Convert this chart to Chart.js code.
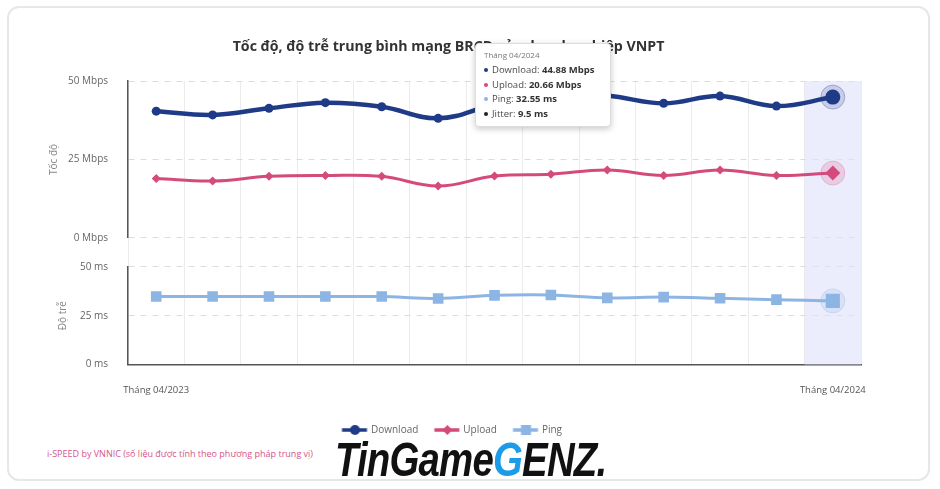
<!DOCTYPE html>
<html>
<head>
<meta charset="utf-8">
<script src="https://cdn.jsdelivr.net/npm/chart.js@4.4.0/dist/chart.umd.min.js"></script>
<style>
  body { margin: 0; width: 940px; height: 489px; overflow: hidden; background: #fff; position: relative; font-family: "Open Sans", sans-serif; }
  .card { position: absolute; left: 7px; top: 6px; width: 923px; height: 475px; border: 2px solid #e7e7e7; border-radius: 12px; box-sizing: border-box; }
  #wrap { position: absolute; left: 10px; top: 20px; width: 900px; height: 425px; }
  .nguon { position: absolute; left: 47px; top: 447px; font-size: 9px; color: #d4558a; }
  .logo { position: absolute; left: 335px; top: 432px; font-family: "Liberation Sans", sans-serif; font-weight: bold; font-style: italic; font-size: 48px; color: #111; letter-spacing: -1px; transform: scaleX(0.8); transform-origin: left top; }
  .logo span { color: #1b9be8; }
  #tip { position: absolute; left: 475px; top: 43px; width: 136px; height: 84px; background: #fff; border: 1px solid #ddd; border-radius: 4px; box-shadow: 0 2px 6px rgba(0,0,0,0.22); box-sizing: border-box; padding: 5px 8px; font-size: 9.5px; color: #4a4a4a; display: none; }
  #tip .t { font-size: 8px; color: #777; margin-bottom: 3px; }
  #tip .r { height: 14.5px; line-height: 14.5px; white-space: nowrap; }
  #tip .d { display: inline-block; width: 4px; height: 4px; border-radius: 50%; margin-right: 4px; vertical-align: middle; }
  #tip b { color: #333; }
</style>
</head>
<body>
<div class="card"></div>
<div id="wrap"><canvas id="grafica"></canvas></div>
<div id="tip"></div>
<div class="nguon">i-SPEED by VNNIC (số liệu được tính theo phương pháp trung vị)</div>
<div class="logo">TinGame<span>G</span>ENZ.</div>
<script>
// Datos
const meses = ["Tháng 04/2023", "Tháng 05/2023", "Tháng 06/2023", "Tháng 07/2023", "Tháng 08/2023", "Tháng 09/2023",
  "Tháng 10/2023", "Tháng 11/2023", "Tháng 12/2023", "Tháng 01/2024", "Tháng 02/2024", "Tháng 03/2024", "Tháng 04/2024"];
const download = [40.4, 39.2, 41.3, 43.1, 41.8, 38.1, 42.5, 45.4, 45.3, 42.9, 45.2, 42.0, 44.88];
const upload = [18.9, 18.1, 19.6, 19.9, 19.6, 16.5, 19.7, 20.3, 21.6, 19.9, 21.6, 19.9, 20.66];
const ping = [34.8, 34.8, 34.8, 34.8, 34.8, 33.8, 35.4, 35.6, 34.1, 34.5, 33.9, 33.2, 32.55];
const jitter = [null, null, null, null, null, null, null, null, null, null, null, null, 9.5];
const ticksMbps = [0, 25, 50];
const ticksMs = [0, 25, 50];

const idxActivo = meses.length - 1;
const colores = { download: "#1f3a87", upload: "#d54a7c", ping: "#8db5e4", jitter: "#222" };

// icono de leyenda: línea + marcador (desplazado a la derecha dentro del lienzo)
function iconoLeyenda(color, forma) {
  const c = document.createElement("canvas");
  c.width = 40; c.height = 14;
  const ctx = c.getContext("2d");
  const m = 24.5;
  ctx.strokeStyle = color; ctx.fillStyle = color; ctx.lineWidth = 3.5;
  ctx.beginPath(); ctx.moveTo(m - 13, 7); ctx.lineTo(m + 12, 7); ctx.stroke();
  ctx.beginPath();
  if (forma === "circle") ctx.arc(m, 7, 5, 0, Math.PI * 2);
  else if (forma === "rectRot") { ctx.moveTo(m, 2); ctx.lineTo(m + 5, 7); ctx.lineTo(m, 12); ctx.lineTo(m - 5, 7); ctx.closePath(); }
  else ctx.rect(m - 5, 2, 10, 10);
  ctx.fill();
  return c;
}

const bandaActiva = {
  id: "bandaActiva",
  beforeDatasetsDraw(chart) {
    const { ctx, chartArea, scales } = chart;
    const x = scales.x.getPixelForValue(idxActivo);
    const w = scales.x.width / meses.length;
    ctx.save();
    ctx.fillStyle = "rgba(222,225,250,0.62)";
    ctx.fillRect(x - w / 2, chartArea.top, w, chartArea.height);
    // halos de los puntos activos
    chart.data.datasets.forEach((ds, i) => {
      const el = chart.getDatasetMeta(i).data[idxActivo];
      if (!el) return;
      ctx.beginPath();
      ctx.arc(el.x, el.y, 12, 0, Math.PI * 2);
      ctx.fillStyle = ds.haloColor;
      ctx.fill();
      ctx.lineWidth = 1;
      ctx.strokeStyle = ds.haloBorde;
      ctx.stroke();
    });
    ctx.restore();
  }
};

function tooltipExterno() {
  const tip = document.getElementById("tip");
  const i = idxActivo;
  tip.innerHTML =
    '<div class="t">' + meses[i] + '</div>' +
    '<div class="r"><span class="d" style="background:' + colores.download + '"></span>Download: <b>' + download[i] + ' Mbps</b></div>' +
    '<div class="r"><span class="d" style="background:' + colores.upload + '"></span>Upload: <b>' + upload[i] + ' Mbps</b></div>' +
    '<div class="r"><span class="d" style="background:' + colores.ping + '"></span>Ping: <b>' + ping[i] + ' ms</b></div>' +
    '<div class="r"><span class="d" style="background:' + colores.jitter + '"></span>Jitter: <b>' + jitter[i] + ' ms</b></div>';
  tip.style.display = "block";
}

const activo = (normal, grande) => (ctx) => ctx.dataIndex === idxActivo ? grande : normal;

const $grafica = document.querySelector("#grafica");
const grafica = new Chart($grafica, {
  type: "line",
  data: {
    labels: meses,
    datasets: [
      {
        label: "Download", data: download, yAxisID: "ySpeed",
        borderColor: colores.download, backgroundColor: colores.download,
        borderWidth: 4.5, tension: 0.4, pointStyle: "circle",
        pointRadius: activo(4.5, 7.5), pointBorderWidth: 0,
        haloColor: "rgba(31,58,135,0.18)", haloBorde: "rgba(31,58,135,0.3)"
      },
      {
        label: "Upload", data: upload, yAxisID: "ySpeed",
        borderColor: colores.upload, backgroundColor: colores.upload,
        borderWidth: 3, tension: 0.4, pointStyle: "rectRot",
        pointRadius: activo(4.5, 7.5), pointBorderWidth: 0,
        haloColor: "rgba(213,74,124,0.2)", haloBorde: "rgba(213,74,124,0.25)"
      },
      {
        label: "Ping", data: ping, yAxisID: "yPing",
        borderColor: colores.ping, backgroundColor: colores.ping,
        borderWidth: 3, tension: 0.3, pointStyle: "rect",
        pointRadius: activo(7.5, 10), pointBorderWidth: 0,
        haloColor: "rgba(141,181,228,0.2)", haloBorde: "rgba(141,181,228,0.3)"
      }
    ]
  },
  options: {
    responsive: true,
    maintainAspectRatio: false,
    animation: false,
    events: [],
    layout: { padding: { left: 26, right: 49, top: 0, bottom: 0 } },
    plugins: {
      title: {
        display: true,
        text: "Tốc độ, độ trễ trung bình mạng BRCĐ của doanh nghiệp VNPT",
        color: "#333",
        font: { family: "Open Sans", size: 14.2, weight: "bold" },
        padding: { top: 18, bottom: 26 }
      },
      legend: {
        position: "bottom",
        labels: {
          usePointStyle: true,
          pointStyleWidth: 31,
          color: "#666",
          font: { family: "Open Sans", size: 10 },
          padding: 9,
          generateLabels(chart) {
            const base = Chart.defaults.plugins.legend.labels.generateLabels(chart);
            return base.map((l, i) => {
              const ds = chart.data.datasets[i];
              l.pointStyle = iconoLeyenda(ds.borderColor, ds.pointStyle);
              return l;
            });
          }
        }
      },
      tooltip: { enabled: false, external: tooltipExterno }
    },
    scales: {
      x: {
        offset: true,
        grid: { color: "#ececec", offset: true, drawTicks: false },
        border: { color: "#555", width: 1.5 },
        ticks: {
          autoSkip: false, maxRotation: 0, padding: 20, color: "#555",
          font: { family: "Open Sans", size: 9.5 },
          callback: (v, i) => (i === 0 || i === meses.length - 1) ? meses[i] : ""
        }
      },
      yPing: {
        type: "linear", position: "left", stack: "ejes", stackWeight: 98,
        min: 0, max: 50,
        afterBuildTicks: (s) => { s.ticks = ticksMs.map(v => ({ value: v })); },
        grid: { color: "#dcdcdc", drawTicks: false },
        border: { color: "#555", width: 1.5, dash: [6, 6] },
        ticks: { padding: 20, color: "#666", font: { family: "Open Sans", size: 10 }, callback: (v) => v + " ms" },
        title: { display: true, text: "Độ trễ", color: "#888", font: { family: "Open Sans", size: 10 }, padding: { top: 21, bottom: -12 } }
      },
      yGap: {
        type: "linear", position: "left", stack: "ejes", stackWeight: 29,
        display: false
      },
      ySpeed: {
        type: "linear", position: "left", stack: "ejes", stackWeight: 157,
        min: 0, max: 50,
        afterBuildTicks: (s) => { s.ticks = ticksMbps.map(v => ({ value: v })); },
        grid: { color: "#dcdcdc", drawTicks: false },
        border: { color: "#555", width: 1.5, dash: [6, 6] },
        ticks: { padding: 20, color: "#666", font: { family: "Open Sans", size: 10 }, callback: (v) => v + " Mbps" },
        title: { display: true, text: "Tốc độ", color: "#888", font: { family: "Open Sans", size: 10 }, padding: { top: 12, bottom: -12 } }
      }
    }
  },
  plugins: [bandaActiva]
});

tooltipExterno();
</script>
</body>
</html>
